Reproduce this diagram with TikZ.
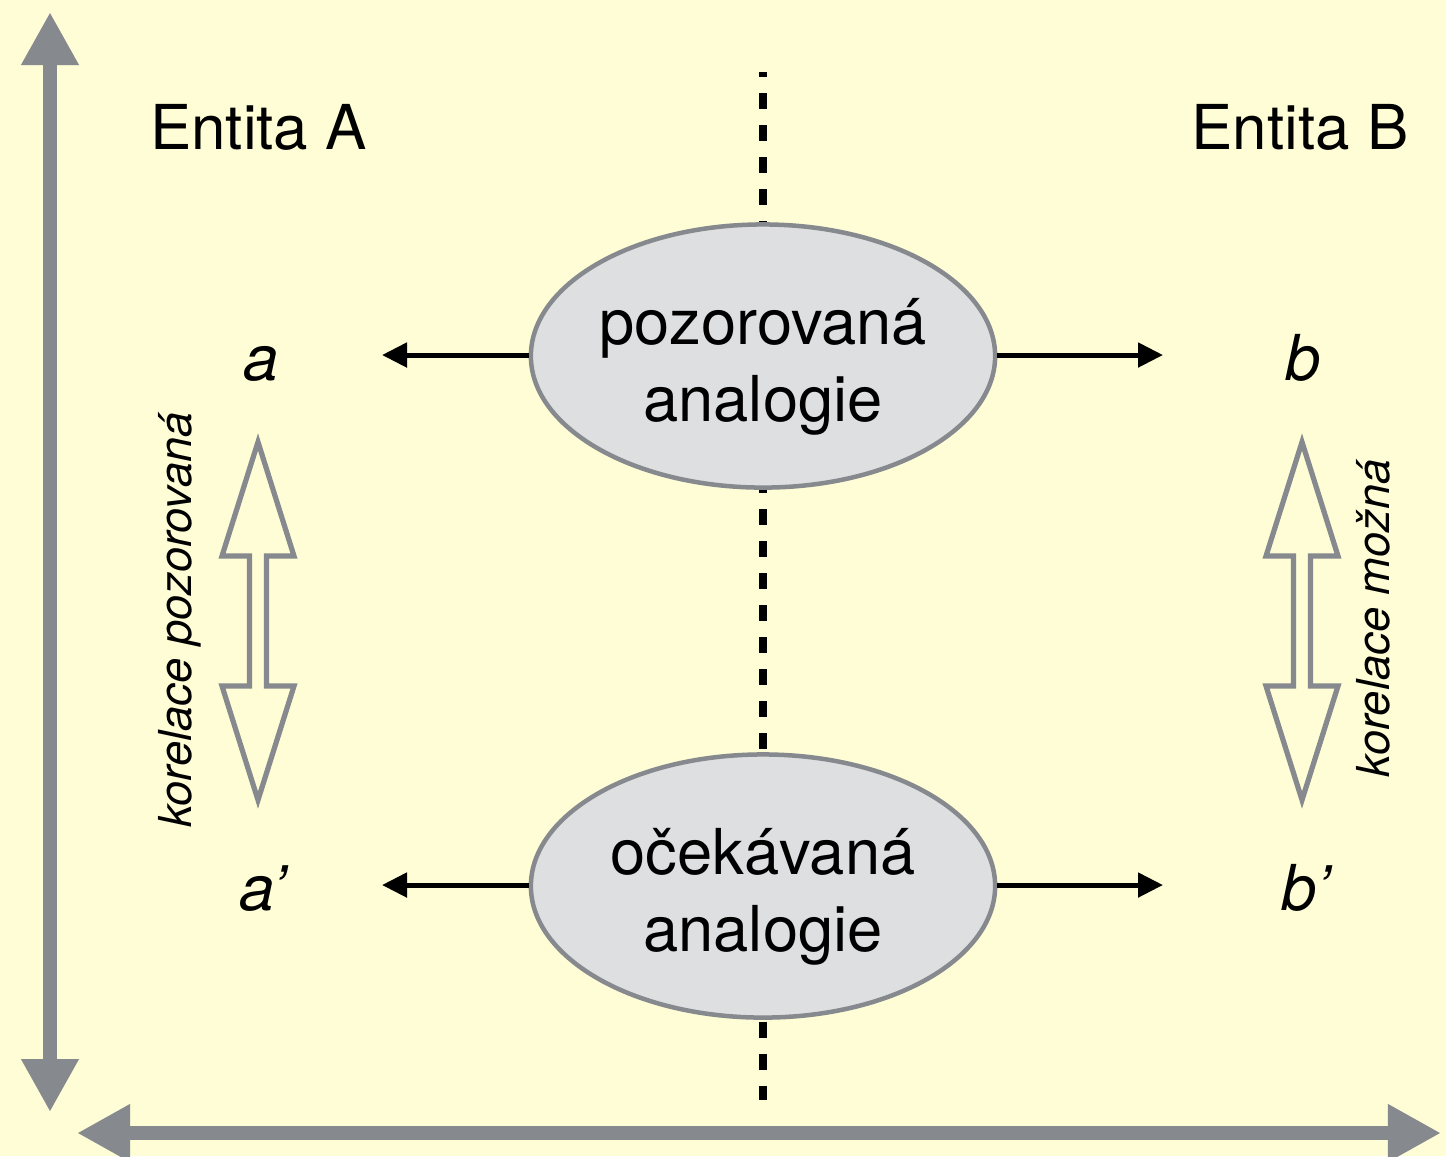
\documentclass[tikz,border=0pt]{standalone}
\usepackage{fontspec}
\setmainfont{TeX Gyre Heros}
\usetikzlibrary{arrows.meta,shapes.geometric}
\definecolor{paper}{RGB}{254,253,214}
\definecolor{axisgray}{RGB}{134,137,142}
\definecolor{bubblefill}{RGB}{222,223,224}

\tikzset{
  dblarrow/.pic={
    \draw[corr] (0,-179) -- (36,-65) -- (8.5,-65) -- (8.5,65) -- (36,65)
      -- (0,179) -- (-36,65) -- (-8.5,65) -- (-8.5,-65) -- (-36,-65) -- cycle;
  }
}

\begin{document}
\begin{tikzpicture}[x=0.01cm,y=-0.01cm,
  axis/.style={draw=axisgray, line width=0.14cm,
    {Triangle[length=0.53cm,width=0.54cm]}-{Triangle[length=0.53cm,width=0.54cm]}},
  bubble/.style={ellipse, draw=axisgray, fill=bubblefill, line width=0.045cm,
    minimum width=4.64cm, minimum height=2.63cm, inner sep=0pt},
  bubbletext/.style={align=center, inner sep=0pt, font=\fontsize{18}{22}\selectfont},
  link/.style={line width=0.05cm, -{Triangle[length=0.25cm,width=0.24cm]}},
  term/.style={font=\fontsize{18}{22}\selectfont\itshape, inner sep=0pt, anchor=base},
  heading/.style={font=\fontsize{17.6}{21}\selectfont, inner sep=0pt, anchor=base},
  corr/.style={draw=axisgray, line width=0.052cm, line join=miter},
  corrlabel/.style={font=\fontsize{12.9}{15}\selectfont\itshape, rotate=90, inner sep=0pt},
  divider/.style={line width=0.08cm, dash pattern=on 0.16cm off 0.16cm, dash phase=0.11cm}
]
% canvas
\fill[paper] (0,0) rectangle (1446,1156);
\useasboundingbox (0,0) rectangle (1446,1156);

% dividing line between the two entities
\coordinate (divtop) at (763,72);
\coordinate (divbot) at (763,1100);
\draw[divider] (divtop) -- (divbot);

% headings
\node[heading] (entA) at (258.5,149) {Entita A};
\node[heading] (entB) at (1300,149) {Entita B};

% analogies
\node[bubble] (obs) at (763,356) {};
\node[bubbletext] (obstext) at (763,367) {pozorovaná\\analogie};
\node[bubble] (exp) at (763,886) {};
\node[bubbletext] (exptext) at (763,897) {očekávaná\\analogie};

% terms
\node[term] (a) at (261,380) {a};
\node[term] (b) at (1303,380) {b};
\node[term] (a2) at (263,910) {a’};
\node[term] (b2) at (1306,910) {b’};

% arrows from the analogies towards the terms
\coordinate (aTip) at (382,355);
\coordinate (bTip) at (1163,355);
\coordinate (a2Tip) at (382,885);
\coordinate (b2Tip) at (1163,885);
\draw[link] (obs.west |- aTip) -- (aTip);
\draw[link] (obs.east |- bTip) -- (bTip);
\draw[link] (exp.west |- a2Tip) -- (a2Tip);
\draw[link] (exp.east |- b2Tip) -- (b2Tip);

% correlations
\pic at (258,621) {dblarrow};
\pic at (1302,621) {dblarrow};
\node[corrlabel] (corrA) at (180,620) {korelace pozorovaná};
\node[corrlabel] (corrB) at (1373,618) {korelace možná};

% axes
\coordinate (yTop) at (50,12);
\coordinate (yBot) at (50,1112);
\draw[axis] (yBot) -- (yTop);
\coordinate (xLeft) at (77,1133);
\coordinate (xRight) at (1441,1133);
\draw[axis] (xLeft) -- (xRight);
\end{tikzpicture}
\end{document}
